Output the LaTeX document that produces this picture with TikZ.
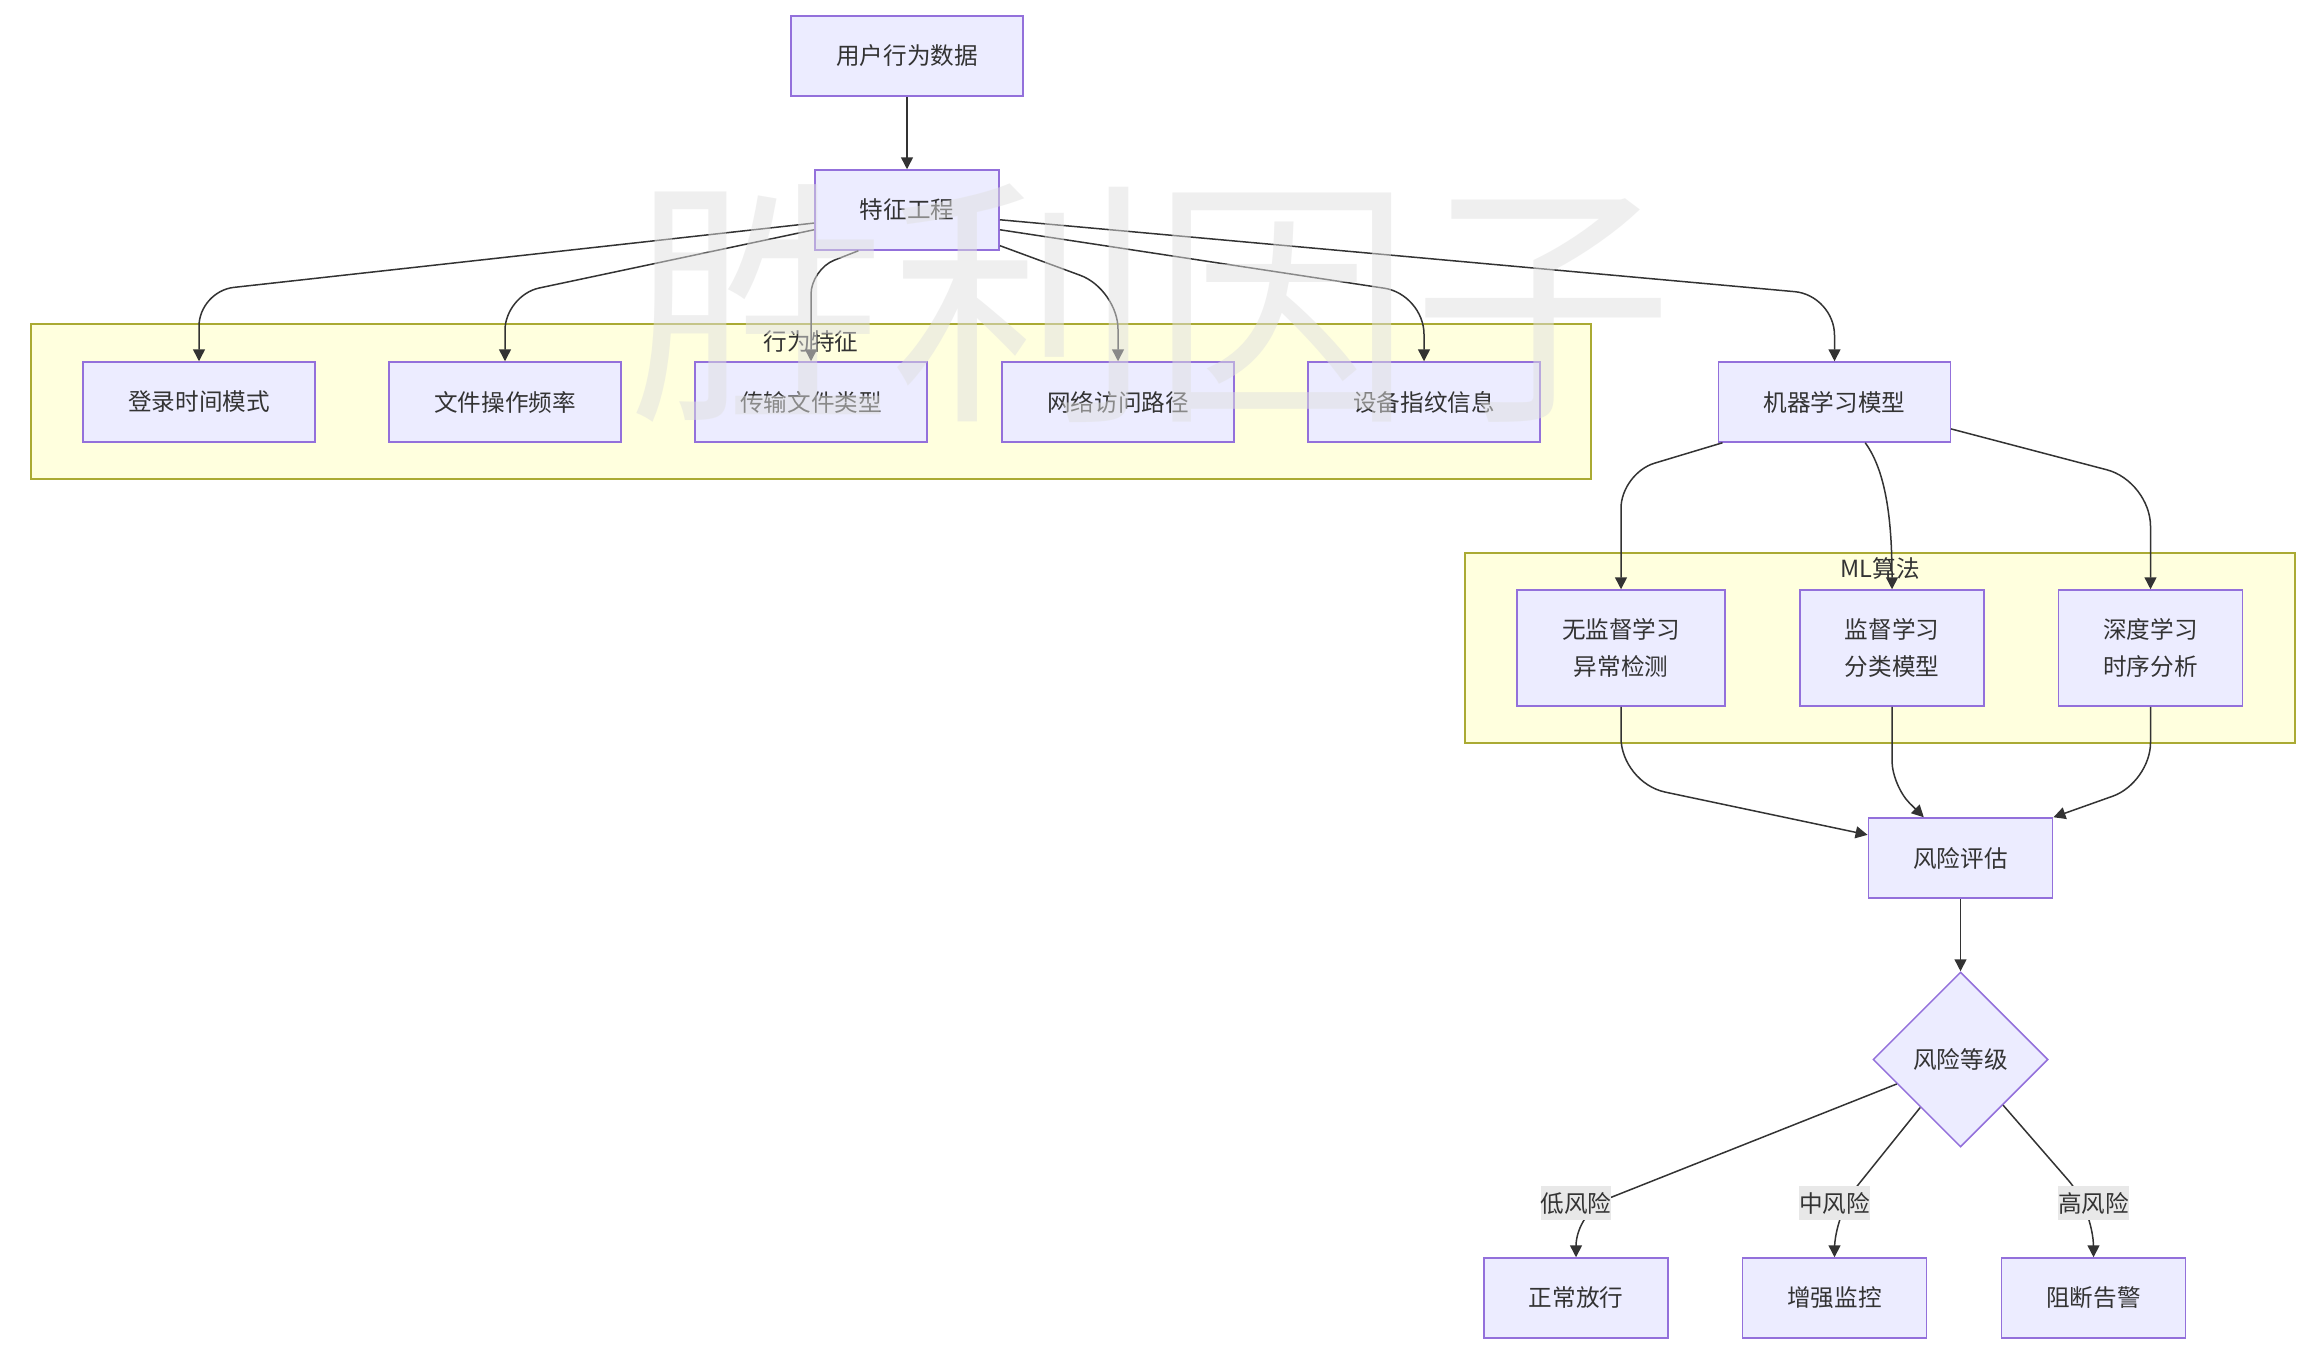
\documentclass[tikz,border=0pt]{standalone}
\usepackage{fontspec}
\setmainfont{Noto Sans CJK SC}
\usetikzlibrary{arrows.meta,shapes.geometric}

\definecolor{nodefill}{HTML}{ECECFF}
\definecolor{nodeline}{HTML}{9370DB}
\definecolor{groupfill}{HTML}{FFFFDE}
\definecolor{groupline}{HTML}{AAAA33}
\definecolor{ink}{HTML}{333333}
\definecolor{labelbg}{HTML}{E8E8E8}
\definecolor{markgray}{HTML}{E0E0E0}

\tikzset{
  proc/.style={draw=nodeline, fill=nodefill, line width=1.5pt, text=ink,
    inner xsep=45pt, inner ysep=0pt, minimum height=80pt},
  proc2/.style={proc, align=center, minimum height=116pt},
  decide/.style={diamond, draw=nodeline, fill=nodefill, line width=1.5pt, text=ink,
    aspect=1, inner sep=0pt, minimum width=175pt, minimum height=175pt},
  group/.style={draw=groupline, fill=groupfill, line width=1.5pt, inner sep=0pt},
  grouptitle/.style={text=ink},
  flow/.style={draw=ink, line width=1.5pt, -{Triangle[length=12pt,width=12pt]}},
  tag/.style={fill=labelbg, text=ink, inner xsep=0pt, inner ysep=6pt},
}

\begin{document}
\begin{tikzpicture}[x=1pt,y=1pt,font=\fontsize{23.6}{37}\selectfont]
  \fill[white] (0,0) rectangle (2321,-1353);
  \useasboundingbox (0,0) rectangle (2321,-1353);

  % groups
  \node[group, minimum width=1560pt, minimum height=155pt] (bhv) at (811,-401.5) {};
  \node[grouptitle] (bhvtitle) at ([yshift=-18pt]bhv.north) {行为特征};
  \node[group, minimum width=830pt, minimum height=190pt] (alg) at (1880,-648) {};
  \node[grouptitle] (algtitle) at ([yshift=-16.5pt]alg.north) {ML算法};

  % nodes
  \node[proc] (ud) at (907,-56) {用户行为数据};
  \node[proc] (fe) at (907,-210) {特征工程};
  \node[proc] (f1) at (199,-402) {登录时间模式};
  \node[proc] (f2) at (505,-402) {文件操作频率};
  \node[proc] (f3) at (811,-402) {传输文件类型};
  \node[proc] (f4) at (1118,-402) {网络访问路径};
  \node[proc] (f5) at (1424,-402) {设备指纹信息};
  \node[proc] (ml) at (1834.5,-402) {机器学习模型};
  \node[proc2] (e1) at (1621,-648) {无监督学习\\异常检测};
  \node[proc2] (e2) at (1892,-648) {监督学习\\分类模型};
  \node[proc2] (e3) at (2150.5,-648) {深度学习\\时序分析};
  \node[proc] (risk) at (1960.5,-858) {风险评估};
  \node[decide] (dia) at (1960.5,-1059.5) {风险等级};
  \node[proc] (lo) at (1576,-1298) {正常放行};
  \node[proc] (mi) at (1834.5,-1298) {增强监控};
  \node[proc] (hi) at (2093.5,-1298) {阻断告警};

  % edges
  \draw[flow] (ud) -- (fe);
  \draw[flow, rounded corners=35pt] (fe.188) -- ([yshift=70pt]f1.north) -- (f1.north);
  \draw[flow, rounded corners=35pt] (fe.192) -- ([yshift=66pt]f2.north) -- (f2.north);
  \draw[flow, rounded corners=25pt] (fe.220) -- ([yshift=92pt]f3.north) -- (f3.north);
  \draw[flow, rounded corners=40pt] (fe.-21) -- ([yshift=72pt]f4.north) -- (f4.north);
  \draw[flow, rounded corners=40pt] (fe.-12) -- ([yshift=67pt]f5.north) -- (f5.north);
  \draw[flow, rounded corners=40pt] (fe.-6) -- ([yshift=66pt]ml.north) -- (ml.north);

  \draw[flow, rounded corners=35pt] (ml.200) -- ([yshift=116pt]e1.north) -- (e1.north);
  \draw[flow] (ml.-53) .. controls +(-54:35) and +(0,70) .. (e2.north);
  \draw[flow, rounded corners=45pt] (ml.-13.5) -- ([yshift=108pt]e3.north) -- (e3.north);

  \draw[flow, rounded corners=45pt] (e1.south) -- ([yshift=-76pt]e1.south) -- (risk.166);
  \draw[flow, rounded corners=25pt] (e2.south) -- ([yshift=-79pt]e2.south) -- (risk.132);
  \draw[flow, rounded corners=40pt] (e3.south) -- ([yshift=-76pt]e3.south) -- (risk.north east);

  \draw[flow] (risk) -- (dia);

  \draw[flow, rounded corners=35pt] (dia.201) -- ([yshift=46pt]lo.north) -- (lo.north);
  \draw[flow, rounded corners=35pt] (dia.230) -- ([yshift=43pt]mi.north) -- (mi.north);
  \draw[flow, rounded corners=38pt] (dia.-47.5) -- ([yshift=48pt]hi.north) -- (hi.north);

  % edge labels
  \node[tag] (lotag) at (1576,-1203) {低风险};
  \node[tag] (mitag) at (1834.5,-1203) {中风险};
  \node[tag] (hitag) at (2093.5,-1203) {高风险};

  % watermark
  \node[text=markgray, opacity=0.5, font=\fontsize{261}{261}\selectfont] (mark) at (1151,-303) {胜利因子};
\end{tikzpicture}
\end{document}
